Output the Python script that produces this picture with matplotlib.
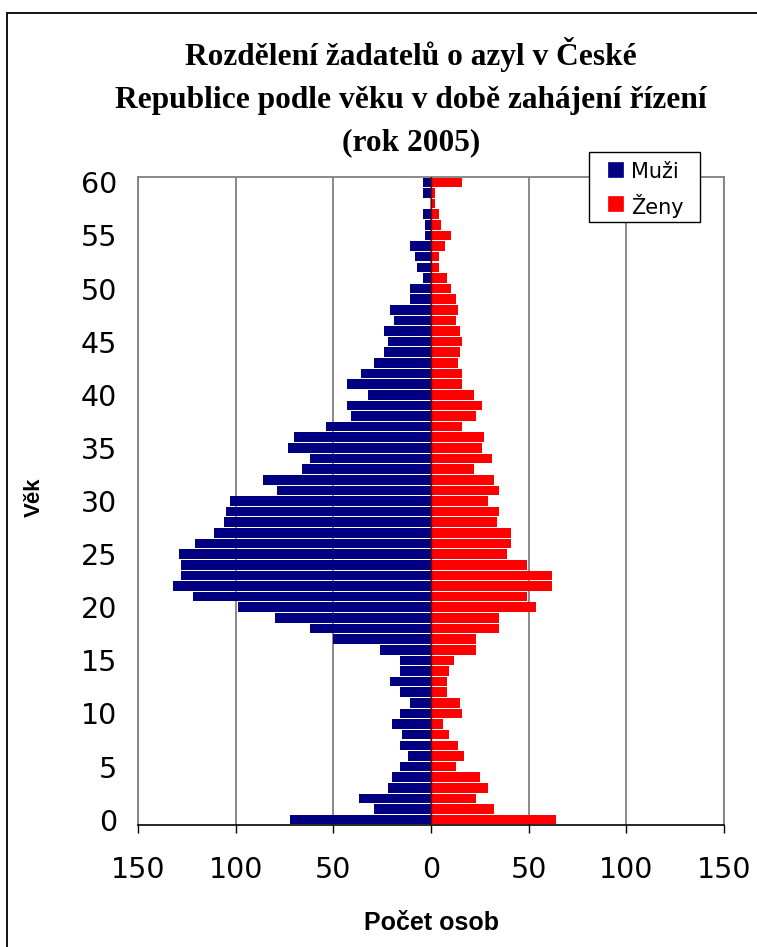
import matplotlib
matplotlib.use("Agg")
import matplotlib.pyplot as plt
from matplotlib.patches import Rectangle
import numpy as np

ages = list(range(0, 61))
muzi = [72, 29, 37, 22, 20, 16, 12, 16, 15, 20,
        16, 11, 16, 21, 16, 16, 26, 50, 62, 80,
        99, 122, 132, 128, 128, 129, 121, 111, 106, 105,
        103, 79, 86, 66, 62, 73, 70, 54, 41, 43,
        32, 43, 36, 29, 24, 22, 24, 19, 21, 11,
        11, 4, 7, 8, 11, 3, 3, 4, 0, 4, 4]
zeny = [64, 32, 23, 29, 25, 13, 17, 14, 9, 6,
        16, 15, 8, 8, 9, 12, 23, 23, 35, 35,
        54, 49, 62, 62, 49, 39, 41, 41, 34, 35,
        29, 35, 32, 22, 31, 26, 27, 16, 23, 26,
        22, 16, 16, 14, 15, 16, 15, 13, 14, 13,
        10, 8, 4, 4, 7, 10, 5, 4, 2, 2, 16]
xticks = [-150, -100, -50, 0, 50, 100, 150]
xtick_labels = ["150", "100", "50", "0", "50", "100", "150"]
yticks = [0, 5, 10, 15, 20, 25, 30, 35, 40, 45, 50, 55, 60]
title_lines = ["Rozdělení žadatelů o azyl v České",
               "Republice podle věku v době zahájení řízení",
               "(rok 2005)"]
legend_labels = ["Muži", "Ženy"]

W, H = 757, 947
fig = plt.figure(figsize=(W / 100, H / 100), dpi=100)
fig.patch.set_facecolor("white")

def fx(px):
    return px / W

def fy(py):
    return 1 - py / H

# outer chart border
fig.patches.append(Rectangle((fx(7), fy(H + 20)), 1.2, fy(13) - fy(H + 20),
                             transform=fig.transFigure, fill=False,
                             edgecolor="black", linewidth=1.3))

ax = fig.add_axes([fx(138), fy(825), fx(724) - fx(138), fy(177) - fy(825)])
navy = "#000080"
red = "#FF0000"
ax.barh(ages, [-v for v in muzi], height=0.9, color=navy, zorder=2)
ax.barh(ages, zeny, height=0.9, color=red, zorder=2)
ax.axvline(0, color="#800000", linewidth=1.0, zorder=3)

ax.set_xlim(-150, 150)
ax.set_ylim(-0.5, 60.5)
ax.set_xticks(xticks)
ax.set_xticklabels(xtick_labels, fontsize=20.5)
ax.set_yticks(yticks)
ax.set_yticklabels([str(t) for t in yticks], fontsize=20.5)
ax.tick_params(axis="y", length=0, pad=15)
ax.tick_params(axis="x", length=6, width=1, direction="out", pad=16, color="black")
ax.grid(axis="x", color="#808080", linewidth=1.3, zorder=0)
ax.set_axisbelow(True)
for s in ["top", "left", "right"]:
    ax.spines[s].set_color("#808080")
    ax.spines[s].set_linewidth(1.3)
ax.spines["bottom"].set_color("black")
ax.spines["bottom"].set_linewidth(1.2)

# title
for line, py in zip(title_lines, [65, 108, 150]):
    fig.text(fx(411), fy(py), line, ha="center", va="baseline",
             fontsize=22.6, fontweight="bold", family="Liberation Serif")

# axis labels
fig.text(fx(431), fy(930), "Počet osob", ha="center", va="baseline",
         fontsize=18, fontweight="bold", family="Liberation Sans")
fig.text(fx(34), fy(497), "Věk", ha="center", va="center", rotation=90,
         fontsize=16, fontweight="bold", family="Liberation Sans")

# legend (drawn as a box with keys and labels)
fig.patches.append(Rectangle((fx(589), fy(222)), fx(700) - fx(589), fy(152) - fy(222),
                             transform=fig.transFigure, facecolor="white",
                             edgecolor="black", linewidth=1.0, zorder=10))
for lab, col, cy in zip(legend_labels, [navy, red], [170, 204]):
    fig.patches.append(Rectangle((fx(608), fy(cy + 7.5)), fx(15), 15 / H,
                                 transform=fig.transFigure, facecolor=col,
                                 edgecolor=col, linewidth=0.5, zorder=11))
    fig.text(fx(631), fy(cy), lab, ha="left", va="center_baseline",
             fontsize=15, zorder=12)

fig.savefig("out.png", dpi=100, facecolor="white")
